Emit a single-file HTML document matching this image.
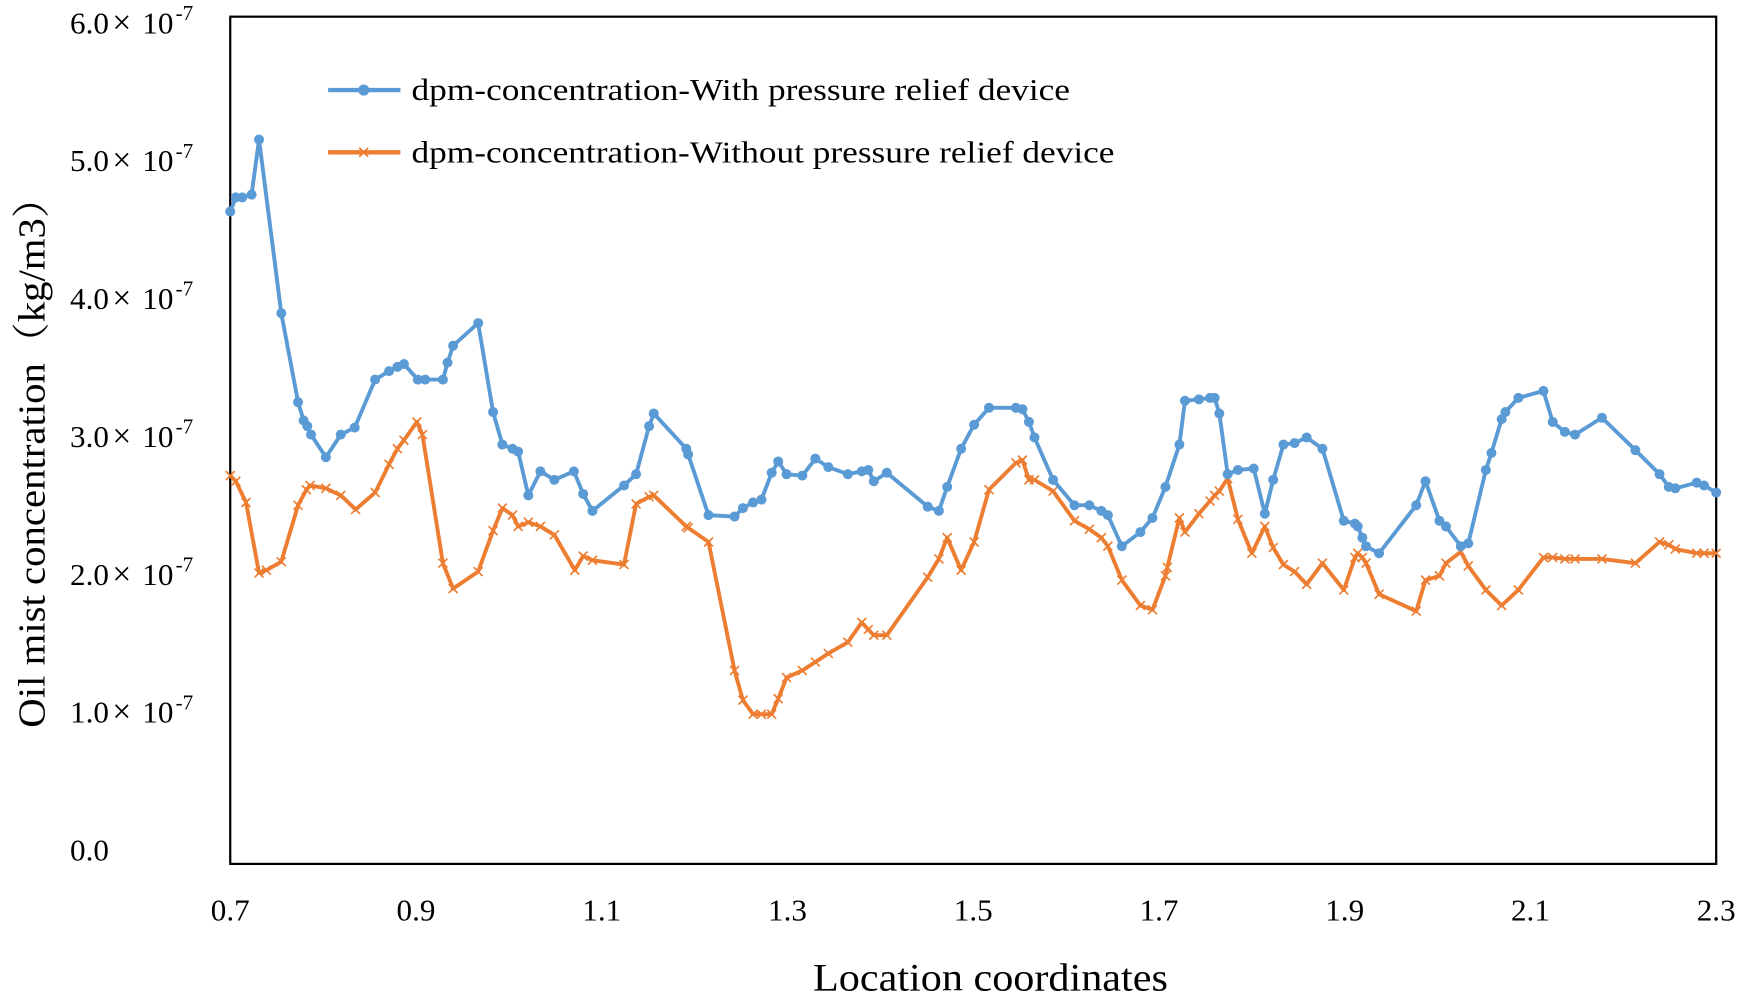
<!DOCTYPE html>
<html><head><meta charset="utf-8"><style>
html,body{margin:0;padding:0;background:#fff;}
svg{display:block;}
text{font-family:"Liberation Serif","Noto Serif CJK SC",serif;fill:#000;}
</style></head><body>
<svg id="chart" width="1744" height="1004" viewBox="0 0 1568 903" preserveAspectRatio="none" xmlns="http://www.w3.org/2000/svg">
<rect x="207" y="15" width="1336" height="762" fill="none" stroke="#000" stroke-width="2"/>
<g id="yticks"></g>
<g id="xticks"></g>
<text x="40" y="407" font-size="34" text-anchor="middle" textLength="495" lengthAdjust="spacingAndGlyphs" transform="rotate(-90 40 407)">Oil mist concentration（kg/m3）</text>
<text x="731" y="891" font-size="35" textLength="319" lengthAdjust="spacingAndGlyphs">Location coordinates</text>
<g>
<g>
<line x1="295" y1="81" x2="360" y2="81" stroke="#5b9bd5" stroke-width="4"/>
<circle cx="327" cy="81" r="5" fill="#5b9bd5"/>
<text x="370" y="90" font-size="28" textLength="592" lengthAdjust="spacingAndGlyphs">dpm-concentration-With pressure relief device</text>
</g>
<g>
<line x1="295" y1="137" x2="360" y2="137" stroke="#ed7d31" stroke-width="4"/>
<path d="M323 133l8 8M331 133l-8 8" stroke="#ed7d31" stroke-width="1.5"/>
<text x="370" y="146" font-size="28" textLength="632" lengthAdjust="spacingAndGlyphs">dpm-concentration-Without pressure relief device</text>
</g>
</g>
<g id="series"></g>
</svg>
<script>
const xTicks=[0.7,0.9,1.1,1.3,1.5,1.7,1.9,2.1,2.3];
const yTicks=[0,1,2,3,4,5,6];
const blueX=[0.700,0.706,0.713,0.723,0.731,0.755,0.773,0.779,0.783,0.787,0.803,0.819,0.834,0.856,0.871,0.880,0.887,0.902,0.910,0.929,0.934,0.940,0.967,0.983,0.993,1.004,1.010,1.021,1.034,1.049,1.070,1.080,1.090,1.124,1.137,1.151,1.156,1.191,1.193,1.215,1.243,1.252,1.263,1.272,1.283,1.290,1.299,1.316,1.330,1.344,1.365,1.380,1.387,1.393,1.407,1.451,1.463,1.472,1.487,1.501,1.517,1.546,1.553,1.560,1.566,1.586,1.609,1.625,1.638,1.645,1.660,1.680,1.693,1.707,1.722,1.728,1.743,1.755,1.760,1.765,1.774,1.785,1.802,1.814,1.823,1.834,1.846,1.859,1.876,1.899,1.911,1.914,1.919,1.923,1.937,1.977,1.987,2.002,2.009,2.025,2.033,2.052,2.058,2.069,2.073,2.087,2.114,2.124,2.137,2.148,2.177,2.213,2.239,2.249,2.256,2.279,2.287,2.300];
const blueY=[4.62,4.72,4.72,4.74,5.13,3.90,3.27,3.14,3.10,3.04,2.88,3.04,3.09,3.43,3.49,3.52,3.54,3.43,3.43,3.43,3.55,3.67,3.83,3.20,2.97,2.94,2.92,2.61,2.78,2.72,2.78,2.62,2.50,2.68,2.76,3.10,3.19,2.94,2.90,2.47,2.46,2.52,2.56,2.58,2.77,2.85,2.76,2.75,2.87,2.81,2.76,2.78,2.79,2.71,2.77,2.53,2.50,2.67,2.94,3.11,3.23,3.23,3.22,3.13,3.02,2.72,2.54,2.54,2.50,2.47,2.25,2.35,2.45,2.67,2.97,3.28,3.29,3.30,3.30,3.19,2.76,2.79,2.80,2.48,2.72,2.97,2.98,3.02,2.94,2.43,2.41,2.39,2.31,2.25,2.20,2.54,2.71,2.43,2.39,2.25,2.27,2.79,2.91,3.15,3.20,3.30,3.35,3.13,3.06,3.04,3.16,2.93,2.76,2.67,2.66,2.70,2.68,2.63];
const orangeX=[0.700,0.706,0.717,0.731,0.739,0.755,0.773,0.782,0.786,0.803,0.819,0.835,0.856,0.871,0.880,0.887,0.901,0.907,0.929,0.940,0.967,0.983,0.993,1.004,1.010,1.021,1.034,1.049,1.071,1.080,1.090,1.124,1.137,1.151,1.156,1.191,1.193,1.215,1.243,1.252,1.263,1.272,1.283,1.290,1.299,1.316,1.330,1.344,1.365,1.380,1.387,1.393,1.407,1.451,1.463,1.472,1.487,1.501,1.517,1.546,1.553,1.560,1.566,1.586,1.609,1.625,1.638,1.645,1.660,1.680,1.693,1.707,1.709,1.722,1.728,1.743,1.755,1.760,1.765,1.774,1.785,1.800,1.814,1.823,1.834,1.846,1.859,1.876,1.899,1.911,1.914,1.919,1.923,1.937,1.977,1.987,2.002,2.009,2.025,2.033,2.052,2.069,2.087,2.114,2.124,2.137,2.148,2.177,2.213,2.239,2.249,2.256,2.279,2.287,2.300];
const orangeY=[2.75,2.71,2.56,2.06,2.08,2.14,2.54,2.65,2.68,2.66,2.61,2.51,2.63,2.83,2.94,3.00,3.13,3.04,2.13,1.95,2.07,2.36,2.52,2.47,2.39,2.42,2.39,2.33,2.08,2.18,2.15,2.12,2.55,2.60,2.61,2.39,2.38,2.28,1.37,1.16,1.06,1.06,1.06,1.17,1.32,1.37,1.43,1.49,1.57,1.71,1.66,1.62,1.62,2.03,2.16,2.31,2.08,2.28,2.65,2.84,2.86,2.72,2.72,2.64,2.43,2.37,2.31,2.25,2.01,1.83,1.80,2.04,2.10,2.45,2.35,2.48,2.57,2.61,2.64,2.73,2.44,2.20,2.39,2.24,2.12,2.07,1.98,2.13,1.94,2.17,2.20,2.17,2.13,1.91,1.79,2.01,2.04,2.13,2.21,2.11,1.94,1.83,1.94,2.17,2.17,2.16,2.16,2.16,2.13,2.28,2.26,2.23,2.20,2.20,2.20];

const NS='http://www.w3.org/2000/svg';
const X0=207,X1=1543,Y0=777,Y1=15;
function sx(v){return X0+(v-0.7)/(2.3-0.7)*(X1-X0);}
function sy(v){return Y0-v/6*(Y0-Y1);}
function ly(v){return 764-124*v;}
function mk(tag,attrs,parent){const e=document.createElementNS(NS,tag);for(const k in attrs)e.setAttribute(k,attrs[k]);parent.appendChild(e);return e;}

const yg=document.getElementById('yticks');
yTicks.forEach(v=>{
  const t=mk('text',{x:63,y:ly(v)+10,'font-size':28},yg);
  
  
  if(v===0){t.textContent='0.0';}
  else{
    const a=mk('tspan',{},t);a.textContent=v.toFixed(1);
    const b=mk('tspan',{'font-size':30,dx:3},t);b.textContent='×';
    const c=mk('tspan',{dx:10},t);c.textContent='10';
    const s=mk('tspan',{'font-size':19,dy:-12,dx:2},t);s.textContent='-7';
  }
});
const xg=document.getElementById('xticks');
xTicks.forEach(v=>{
  const t=mk('text',{x:sx(v),y:828,'font-size':28,'text-anchor':'middle'},xg);
  
  
  t.textContent=v.toFixed(1);
});

const sg=document.getElementById('series');
function drawSeries(xs,ys,color,marker,name){
  const g=mk('g',{},sg);
  
  
  const d=xs.map((x,i)=>(i?'L':'M')+sx(x).toFixed(1)+' '+sy(ys[i]).toFixed(1)).join('');
  const p=mk('path',{d:d,fill:'none',stroke:color,'stroke-width':3.5,'stroke-linejoin':'round'},g);
  
  
  xs.forEach((x,i)=>{
    const cx=sx(x),cy=sy(ys[i]);
    let m;
    if(marker==='circle'){m=mk('circle',{cx:cx,cy:cy,r:4.5,fill:color},g);}
    else{m=mk('path',{d:`M${cx-4} ${cy-4}l8 8M${cx+4} ${cy-4}l-8 8`,stroke:color,'stroke-width':1.5},g);}
    
    
  });
}
drawSeries(orangeX,orangeY,'#ed7d31','x','series-without-device');
drawSeries(blueX,blueY,'#5b9bd5','circle','series-with-device');
</script>
</body></html>
